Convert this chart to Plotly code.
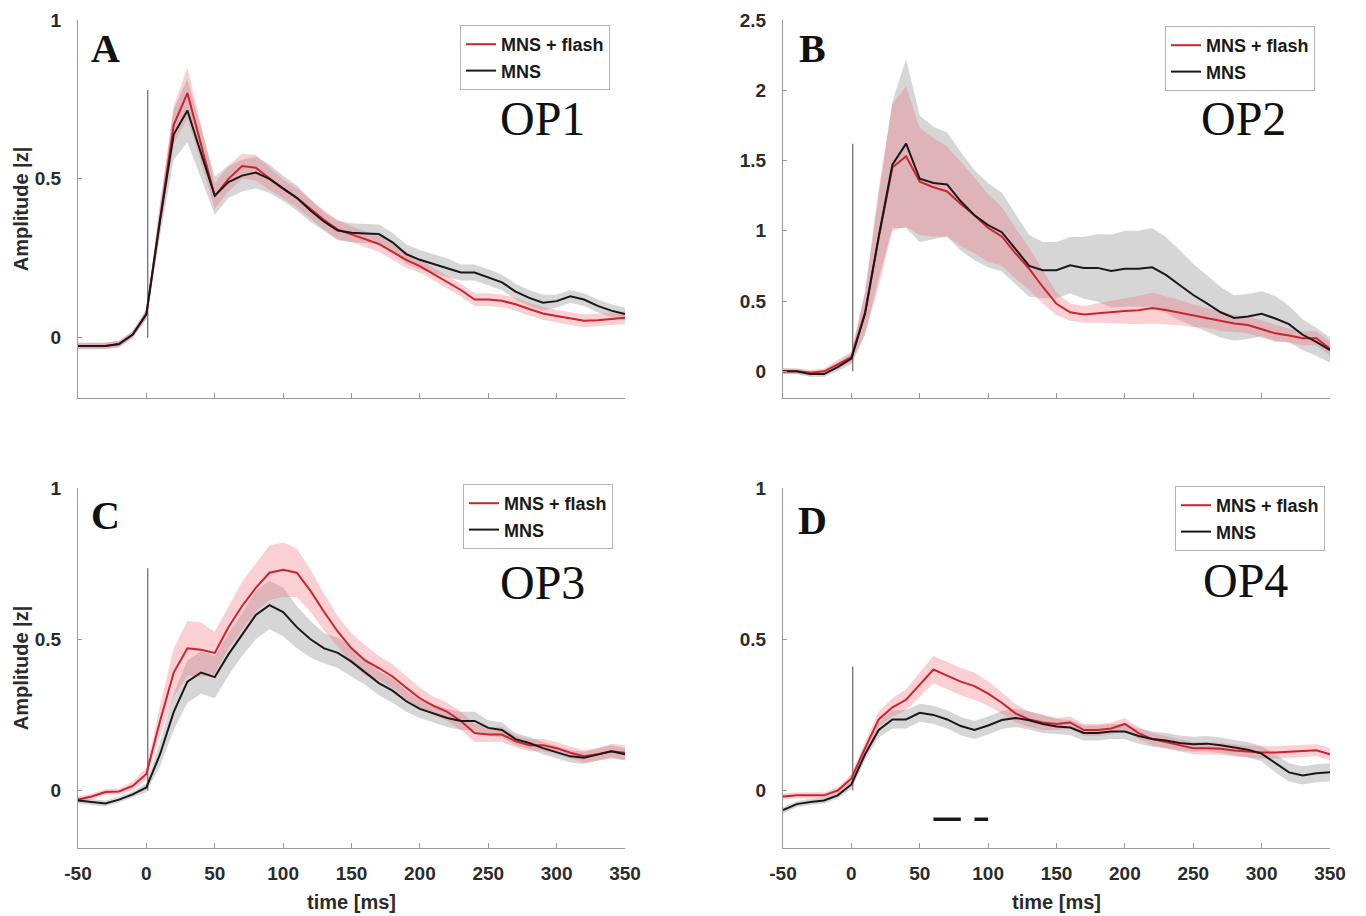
import plotly.graph_objects as go

# ---------------- data ----------------
t = list(range(-50, 351, 10))

A_red = [-0.026, -0.026, -0.026, -0.02, 0.01,
         0.074, 0.38, 0.67, 0.77, 0.61,
         0.445, 0.50, 0.54, 0.535, 0.50,
         0.468, 0.44, 0.405, 0.37, 0.34,
         0.326, 0.31, 0.295, 0.27, 0.245,
         0.225, 0.20, 0.175, 0.15, 0.12,
         0.12, 0.116, 0.105, 0.09, 0.076,
         0.068, 0.06, 0.053, 0.055, 0.06,
         0.063]
A_black = [-0.026, -0.026, -0.026, -0.02, 0.01,
           0.074, 0.37, 0.64, 0.715, 0.58,
           0.447, 0.49, 0.51, 0.52, 0.50,
           0.47, 0.44, 0.40, 0.365, 0.337,
           0.33, 0.328, 0.326, 0.30, 0.263,
           0.245, 0.232, 0.22, 0.205, 0.205,
           0.19, 0.174, 0.145, 0.125, 0.11,
           0.115, 0.13, 0.12, 0.10, 0.085,
           0.074]
A_red_sem = [0.01, 0.01, 0.01, 0.01, 0.01,
             0.015, 0.04, 0.06, 0.08, 0.06,
             0.04, 0.04, 0.04, 0.04, 0.035,
             0.03, 0.03, 0.03, 0.03, 0.03,
             0.025, 0.025, 0.025, 0.025, 0.025,
             0.02, 0.02, 0.02, 0.02, 0.02,
             0.02, 0.02, 0.02, 0.02, 0.02,
             0.02, 0.02, 0.02, 0.02, 0.02,
             0.02]
A_black_sem = [0.01, 0.01, 0.01, 0.01, 0.01,
               0.015, 0.05, 0.08, 0.1, 0.08,
               0.06, 0.05, 0.05, 0.05, 0.045,
               0.04, 0.04, 0.035, 0.03, 0.03,
               0.03, 0.03, 0.03, 0.03, 0.03,
               0.03, 0.03, 0.03, 0.025, 0.025,
               0.025, 0.025, 0.025, 0.025, 0.025,
               0.02, 0.02, 0.02, 0.02, 0.02,
               0.02]

B_red = [0.0, 0.0, -0.01, 0.0, 0.05,
         0.1, 0.42, 0.95, 1.45, 1.53,
         1.35, 1.31, 1.28, 1.19, 1.11,
         1.02, 0.96, 0.84, 0.73, 0.60,
         0.48, 0.42, 0.405, 0.415, 0.42,
         0.43, 0.435, 0.45, 0.436, 0.417,
         0.395, 0.38, 0.357, 0.34, 0.33,
         0.30, 0.27, 0.255, 0.235, 0.235,
         0.16]
B_black = [0.0, 0.0, -0.02, -0.02, 0.03,
           0.09, 0.41, 0.96, 1.47, 1.62,
           1.37, 1.34, 1.33, 1.21, 1.11,
           1.04, 0.99, 0.87, 0.75, 0.72,
           0.72, 0.755, 0.736, 0.736, 0.714,
           0.73, 0.73, 0.74, 0.686, 0.614,
           0.543, 0.483, 0.42, 0.38, 0.39,
           0.41, 0.376, 0.336, 0.26, 0.21,
           0.15]
B_red_sem = [0.02, 0.02, 0.02, 0.02, 0.03,
             0.04, 0.15, 0.35, 0.45, 0.5,
             0.38, 0.35, 0.32, 0.3, 0.27,
             0.24, 0.21, 0.18, 0.15, 0.12,
             0.08, 0.06, 0.06, 0.07, 0.08,
             0.09, 0.1, 0.11, 0.1, 0.09,
             0.08, 0.07, 0.07, 0.06, 0.06,
             0.06, 0.06, 0.05, 0.05, 0.05,
             0.05]
B_black_sem = [0.02, 0.02, 0.02, 0.02, 0.03,
               0.04, 0.15, 0.3, 0.45, 0.6,
               0.45, 0.4, 0.37, 0.35, 0.32,
               0.3, 0.28, 0.25, 0.22, 0.2,
               0.2, 0.2, 0.22, 0.24, 0.26,
               0.27, 0.27, 0.28, 0.27, 0.25,
               0.22, 0.2, 0.18, 0.16, 0.16,
               0.16, 0.16, 0.13, 0.11, 0.1,
               0.09]

C_red = [-0.03, -0.02, -0.005, -0.003, 0.015,
         0.055, 0.23, 0.39, 0.47, 0.465,
         0.455, 0.54, 0.61, 0.67, 0.72,
         0.73, 0.72, 0.66, 0.59, 0.525,
         0.47, 0.43, 0.405, 0.377, 0.34,
         0.305, 0.28, 0.26, 0.23, 0.19,
         0.185, 0.185, 0.163, 0.15, 0.15,
         0.14, 0.125, 0.113, 0.12, 0.13,
         0.125]
C_black = [-0.033, -0.037, -0.043, -0.03, -0.013,
           0.01, 0.12, 0.26, 0.36, 0.39,
           0.375, 0.45, 0.515, 0.58, 0.613,
           0.59, 0.54, 0.50, 0.47, 0.455,
           0.426, 0.39, 0.355, 0.33, 0.295,
           0.27, 0.255, 0.24, 0.23, 0.23,
           0.207, 0.20, 0.17, 0.157, 0.14,
           0.127, 0.113, 0.108, 0.12, 0.13,
           0.12]
C_red_sem = [0.01, 0.01, 0.01, 0.01, 0.015,
             0.02, 0.05, 0.08, 0.09, 0.09,
             0.07, 0.07, 0.08, 0.08, 0.09,
             0.09, 0.08, 0.07, 0.06, 0.05,
             0.05, 0.05, 0.04, 0.04, 0.04,
             0.035, 0.03, 0.03, 0.03, 0.03,
             0.025, 0.025, 0.02, 0.02, 0.02,
             0.02, 0.02, 0.02, 0.02, 0.025,
             0.025]
C_black_sem = [0.01, 0.01, 0.01, 0.01, 0.01,
               0.015, 0.04, 0.06, 0.07, 0.07,
               0.07, 0.07, 0.07, 0.08, 0.08,
               0.08, 0.07, 0.06, 0.05, 0.05,
               0.05, 0.04, 0.04, 0.04, 0.035,
               0.03, 0.03, 0.03, 0.03, 0.03,
               0.025, 0.025, 0.02, 0.02, 0.02,
               0.02, 0.02, 0.02, 0.02, 0.02,
               0.02]

D_red = [-0.02, -0.016, -0.016, -0.016, 0.0,
         0.04, 0.14, 0.235, 0.275, 0.30,
         0.35, 0.40, 0.38, 0.36, 0.345,
         0.32, 0.29, 0.255, 0.235, 0.225,
         0.22, 0.225, 0.20, 0.20, 0.205,
         0.22, 0.19, 0.17, 0.16, 0.15,
         0.14, 0.14, 0.138, 0.132, 0.128,
         0.126, 0.126, 0.128, 0.13, 0.133,
         0.12]
D_black = [-0.065, -0.045, -0.038, -0.033, -0.016,
           0.02, 0.12, 0.2, 0.235, 0.235,
           0.257, 0.25, 0.235, 0.213, 0.20,
           0.215, 0.233, 0.24, 0.232, 0.22,
           0.212, 0.208, 0.19, 0.19, 0.195,
           0.195, 0.18, 0.17, 0.165, 0.157,
           0.153, 0.155, 0.15, 0.142, 0.135,
           0.122, 0.09, 0.06, 0.05, 0.057,
           0.06]
D_red_sem = [0.01, 0.01, 0.01, 0.01, 0.01,
             0.015, 0.02, 0.025, 0.03, 0.035,
             0.04, 0.045, 0.045, 0.045, 0.045,
             0.04, 0.035, 0.03, 0.025, 0.025,
             0.02, 0.02, 0.02, 0.02, 0.02,
             0.02, 0.02, 0.02, 0.02, 0.02,
             0.02, 0.02, 0.02, 0.02, 0.02,
             0.02, 0.02, 0.02, 0.02, 0.02,
             0.02]
D_black_sem = [0.01, 0.01, 0.01, 0.01, 0.01,
               0.015, 0.02, 0.025, 0.03, 0.03,
               0.03, 0.03, 0.03, 0.03, 0.03,
               0.03, 0.03, 0.03, 0.03, 0.03,
               0.025, 0.025, 0.025, 0.025, 0.025,
               0.025, 0.025, 0.025, 0.025, 0.025,
               0.025, 0.025, 0.025, 0.025, 0.025,
               0.025, 0.03, 0.03, 0.03, 0.03,
               0.03]

panel_letters = ["A", "B", "C", "D"]
region_labels = ["OP1", "OP2", "OP3", "OP4"]
series_names = ["MNS + flash", "MNS"]
stim_time = 1
stim_line_top = [0.78, 1.62, 0.735, 0.41]
y_ranges = [[-0.19, 1.0], [-0.19, 2.5], [-0.19, 1.0], [-0.19, 1.0]]
y_ticks = [[0, 0.5, 1], [0, 0.5, 1, 1.5, 2, 2.5], [0, 0.5, 1], [0, 0.5, 1]]
y_ticktext = [["0", "0.5", "1"], ["0", "0.5", "1", "1.5", "2", "2.5"],
              ["0", "0.5", "1"], ["0", "0.5", "1"]]
x_ticks = [-50, 0, 50, 100, 150, 200, 250, 300, 350]
x_ticktext = ["-50", "0", "50", "100", "150", "200", "250", "300", "350"]
sig_segments_D = [[60, 80], [90, 100]]
sig_level_D = -0.095

# ---------------- styling ----------------
W, H = 1366, 916
RED = "rgb(205,35,45)"
BLACK = "rgb(25,25,25)"
RED_BAND = "rgba(240,110,120,0.32)"
GRAY_BAND = "rgba(140,140,140,0.36)"
AXIS_COL = "#9a9a9a"
SANS = "Liberation Sans, Arial, sans-serif"
SERIF = "Liberation Serif, Times New Roman, serif"
TICK_FONT = dict(family=SANS, size=19, color="#2b2b2b", weight="bold")
TITLE_FONT = dict(family=SANS, size=20, color="#2b2b2b", weight="bold")

# pixel geometry (left, right, top, bottom) of the four axes boxes
boxes = [(78, 625, 20, 398), (783, 1330, 20, 398),
         (78, 625, 488, 848), (783, 1330, 488, 848)]

panels = [
    (A_red, A_black, A_red_sem, A_black_sem),
    (B_red, B_black, B_red_sem, B_black_sem),
    (C_red, C_black, C_red_sem, C_black_sem),
    (D_red, D_black, D_red_sem, D_black_sem),
]

fig = go.Figure()
layout = {}

for i, (red, black, red_sem, black_sem) in enumerate(panels):
    n = i + 1
    xa = "x" if n == 1 else f"x{n}"
    ya = "y" if n == 1 else f"y{n}"
    lg = "legend" if n == 1 else f"legend{n}"

    # error bands
    for vals, sem, col in ((black, black_sem, GRAY_BAND), (red, red_sem, RED_BAND)):
        upper = [v + s for v, s in zip(vals, sem)]
        lower = [v - s for v, s in zip(vals, sem)]
        fig.add_trace(go.Scatter(
            x=t + t[::-1], y=upper + lower[::-1], fill="toself",
            fillcolor=col, line=dict(width=0), mode="lines",
            hoverinfo="skip", showlegend=False, xaxis=xa, yaxis=ya))

    # stimulus onset line
    fig.add_trace(go.Scatter(
        x=[stim_time, stim_time], y=[0, stim_line_top[i]], mode="lines",
        line=dict(color="#666666", width=1.2), showlegend=False,
        hoverinfo="skip", xaxis=xa, yaxis=ya))

    # mean lines
    fig.add_trace(go.Scatter(
        x=t, y=red, mode="lines", name=series_names[0],
        line=dict(color=RED, width=2), xaxis=xa, yaxis=ya, legend=lg))
    fig.add_trace(go.Scatter(
        x=t, y=black, mode="lines", name=series_names[1],
        line=dict(color=BLACK, width=2), xaxis=xa, yaxis=ya, legend=lg))

    L, R, T, B = boxes[i]
    xkey = "xaxis" if n == 1 else f"xaxis{n}"
    ykey = "yaxis" if n == 1 else f"yaxis{n}"
    bottom_row = i >= 2
    left_col = i % 2 == 0
    layout[xkey] = dict(
        domain=[L / W, R / W], anchor=ya, range=[-50, 350],
        tickvals=x_ticks, ticktext=x_ticktext, showticklabels=bottom_row,
        ticks="inside", ticklen=5, tickcolor=AXIS_COL,
        showline=True, linecolor=AXIS_COL, linewidth=1,
        showgrid=False, zeroline=False, tickfont=TICK_FONT,
        ticklabelstandoff=8, automargin=False,
        title=dict(text="time [ms]" if bottom_row else "",
                   font=TITLE_FONT, standoff=12),
    )
    layout[ykey] = dict(
        domain=[1 - B / H, 1 - T / H], anchor=xa, range=y_ranges[i],
        tickvals=y_ticks[i], ticktext=y_ticktext[i],
        ticks="inside", ticklen=4, tickcolor=AXIS_COL,
        showline=True, linecolor=AXIS_COL, linewidth=1,
        showgrid=False, zeroline=False, tickfont=TICK_FONT,
        ticklabelstandoff=12, automargin=False,
        title=dict(text="Amplitude |z|" if left_col else "",
                   font=TITLE_FONT, standoff=0),
    )

    # legend
    leg_pos = [(460, 25), (1165, 26), (463, 484), (1175, 486)][i]
    layout[lg] = dict(
        x=leg_pos[0] / W, y=1 - leg_pos[1] / H, xanchor="left", yanchor="top",
        xref="paper", yref="paper",
        bgcolor="white", bordercolor="#b5b5b5", borderwidth=1,
        font=dict(family=SANS, size=18, color="#1a1a1a", weight="bold"),
        itemwidth=30, tracegroupgap=0,
    )

# significance bars in panel D
for seg in sig_segments_D:
    fig.add_trace(go.Scatter(
        x=seg, y=[sig_level_D, sig_level_D], mode="lines",
        line=dict(color=BLACK, width=3.5), showlegend=False,
        hoverinfo="skip", xaxis="x4", yaxis="y4"))

annotations = []
letter_pos = [(105, 48), (812, 48), (105, 515), (812, 520)]
op_pos = [(542, 118), (1243, 118), (542, 582), (1245, 580)]
for i in range(4):
    annotations.append(dict(
        text=panel_letters[i], x=letter_pos[i][0] / W, y=1 - letter_pos[i][1] / H,
        xref="paper", yref="paper", showarrow=False, xanchor="center", yanchor="middle",
        font=dict(family=SERIF, size=40, color="#111111", weight="bold")))
    annotations.append(dict(
        text=region_labels[i], x=op_pos[i][0] / W, y=1 - op_pos[i][1] / H,
        xref="paper", yref="paper", showarrow=False, xanchor="center", yanchor="middle",
        font=dict(family=SERIF, size=48, color="#111111")))

fig.update_layout(
    width=W, height=H, autosize=False,
    margin=dict(l=0, r=0, t=0, b=0),
    paper_bgcolor="white", plot_bgcolor="white",
    annotations=annotations,
    **layout,
)

fig.write_html("out.html",
               config={"displayModeBar": False},
               post_script="document.body.style.margin='0px';"
                           "document.body.style.overflow='hidden';")
